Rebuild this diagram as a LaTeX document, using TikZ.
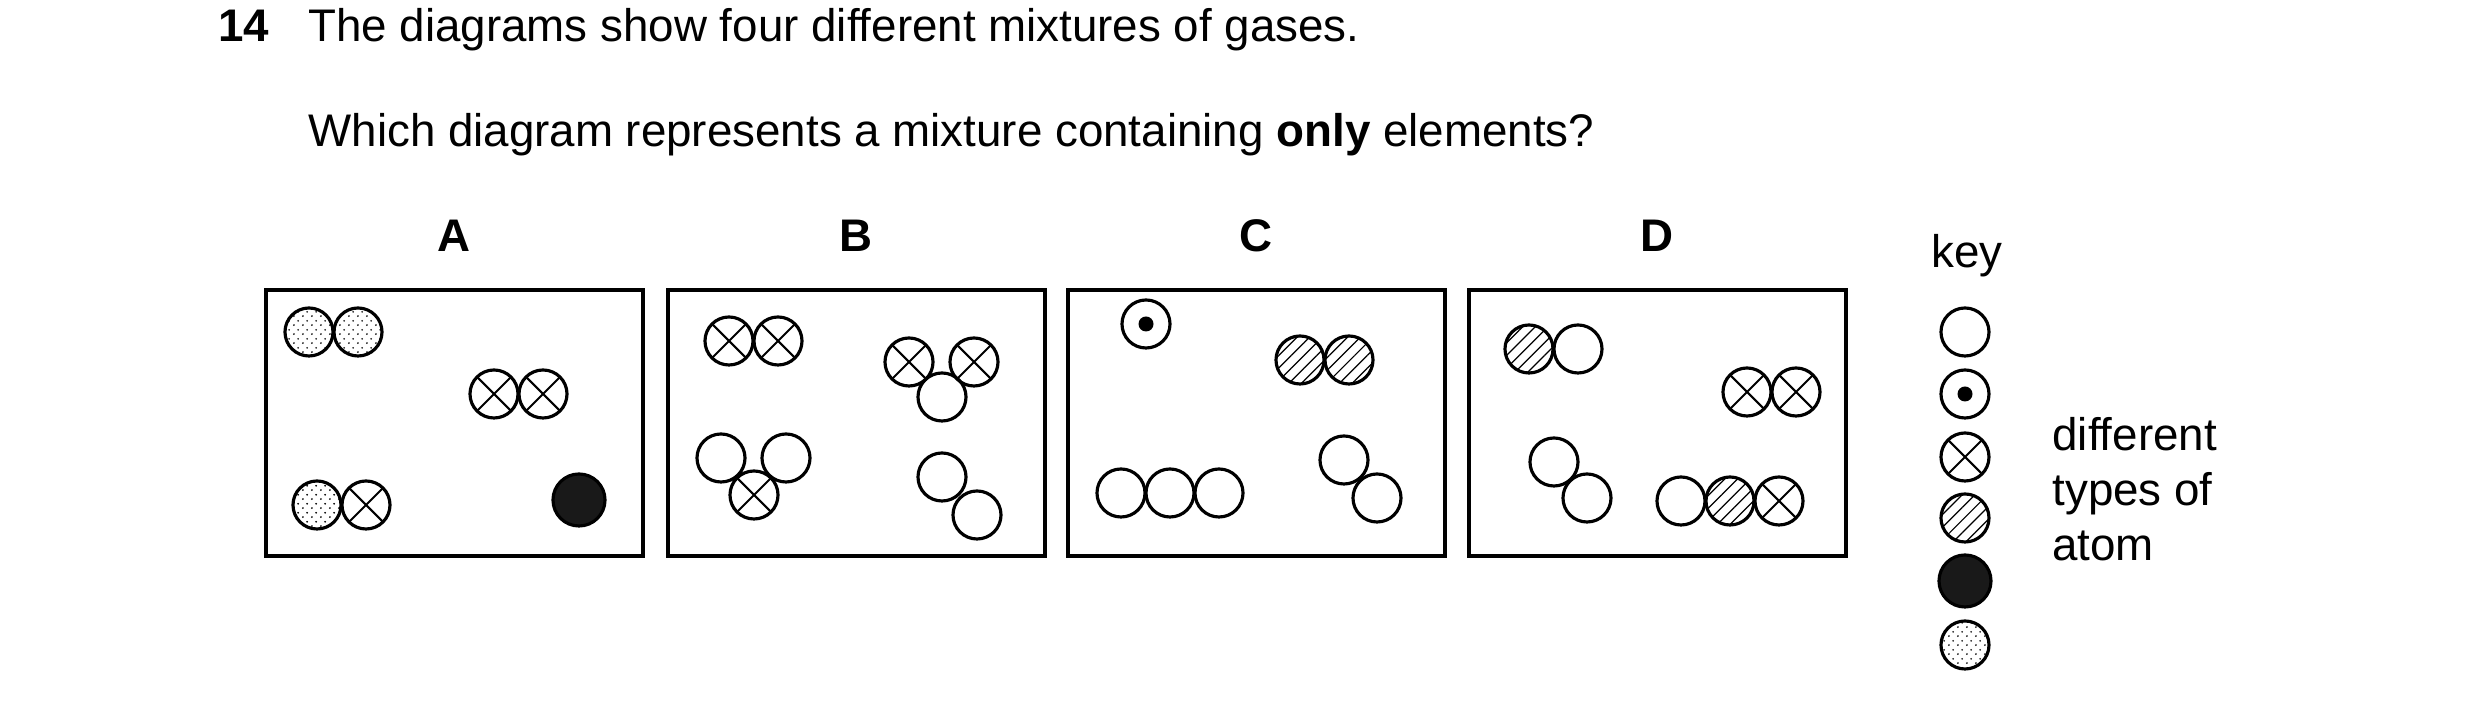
\documentclass[tikz,border=0pt]{standalone}
\usepackage{fontspec}
\setmainfont{Liberation Sans}
\usetikzlibrary{patterns}
\pgfdeclarepatternformonly{finedots}{\pgfpointorigin}{\pgfpoint{2.6pt}{2.6pt}}{\pgfpoint{2.6pt}{2.6pt}}{%
  \pgfpathcircle{\pgfpoint{0.6pt}{0.6pt}}{0.3pt}\pgfpathcircle{\pgfpoint{1.9pt}{1.9pt}}{0.3pt}\pgfusepath{fill}}
\pgfdeclarepatternformonly{widehatch}{\pgfpoint{-1pt}{-1pt}}{\pgfpoint{4pt}{4pt}}{\pgfpoint{3.6pt}{3.6pt}}{%
  \pgfsetlinewidth{0.35pt}\pgfpathmoveto{\pgfpoint{0pt}{0pt}}\pgfpathlineto{\pgfpoint{3.6pt}{3.6pt}}\pgfusepath{stroke}}
\begin{document}
\begin{tikzpicture}[x=0.01cm,y=-0.01cm,
  font=\fontsize{13}{15.6}\selectfont,
  box/.style={draw,line width=1.1pt,minimum width=3.77cm,minimum height=2.66cm,inner sep=0pt},
  atom/.style={circle,draw,line width=0.9pt,minimum size=0.48cm,inner sep=0pt},
  plain/.style={atom},
  cross/.style={atom,path picture={\draw[line width=0.6pt] (path picture bounding box.north west)--(path picture bounding box.south east) (path picture bounding box.north east)--(path picture bounding box.south west);}},
  dotc/.style={atom,path picture={\fill (path picture bounding box.center) circle (0.075cm);}},
  hatch/.style={atom,pattern=widehatch},
  blk/.style={atom,fill=black!90,minimum size=0.52cm},
  dots/.style={atom,pattern=finedots},
  lab/.style={font=\fontsize{13}{15.6}\selectfont\bfseries}]
\useasboundingbox (0,0) rectangle (2480,710);
\node[lab,anchor=base west] (num) at (206,42) {14};
\node[anchor=base west] (q1) at (296,42) {The diagrams show four different mixtures of gases.};
\node[anchor=base west] (q2) at (296,147) {Which diagram represents a mixture containing \textbf{only} elements?};
\foreach \n/\x in {A/264,B/666,C/1066,D/1467}{
  \node[box,anchor=north west] (box\n) at (\x,288) {};
  \node[lab] (l\n) at (\x+190,236) {\n};
}
% A
\node[dots] (a1) at (309,332) {}; \node[dots] (a2) at (358,332) {};
\node[cross] (a3) at (494,394) {}; \node[cross] (a4) at (543,394) {};
\node[dots] (a5) at (317,505) {}; \node[cross] (a6) at (366,505) {};
\node[blk] (a7) at (579,500) {};
% B
\node[cross] (b1) at (729,341) {}; \node[cross] (b2) at (778,341) {};
\node[plain] (b5) at (942,397) {};
\node[cross] (b3) at (909,362) {}; \node[cross] (b4) at (974,362) {};
\node[plain] (b6) at (721,458) {}; \node[plain] (b7) at (786,458) {};
\node[cross] (b8) at (754,495) {};
\node[plain] (b9) at (942,477) {}; \node[plain] (b10) at (977,515) {};
% C
\node[dotc] (c1) at (1146,324) {};
\node[hatch] (c2) at (1300,360) {}; \node[hatch] (c3) at (1349,360) {};
\node[plain] (c4) at (1121,493) {}; \node[plain] (c5) at (1170,493) {}; \node[plain] (c6) at (1219,493) {};
\node[plain] (c7) at (1344,460) {}; \node[plain] (c8) at (1377,498) {};
% D
\node[hatch] (d1) at (1529,349) {}; \node[plain] (d2) at (1578,349) {};
\node[cross] (d3) at (1747,392) {}; \node[cross] (d4) at (1796,392) {};
\node[plain] (d5) at (1554,462) {}; \node[plain] (d6) at (1587,498) {};
\node[plain] (d7) at (1681,501) {}; \node[hatch] (d8) at (1730,501) {}; \node[cross] (d9) at (1779,501) {};
% key
\node (key) at (1967,256) {key};
\node[plain] (k1) at (1965,332) {};
\node[dotc] (k2) at (1965,394) {};
\node[cross] (k3) at (1965,457) {};
\node[hatch] (k4) at (1965,518) {};
\node[blk] (k5) at (1965,581) {};
\node[dots] (k6) at (1965,645) {};
\node[anchor=north west,align=left,font=\fontsize{13}{15.7}\selectfont] (ktext) at (2040,405) {different\\types of\\atom};
\end{tikzpicture}
\end{document}
